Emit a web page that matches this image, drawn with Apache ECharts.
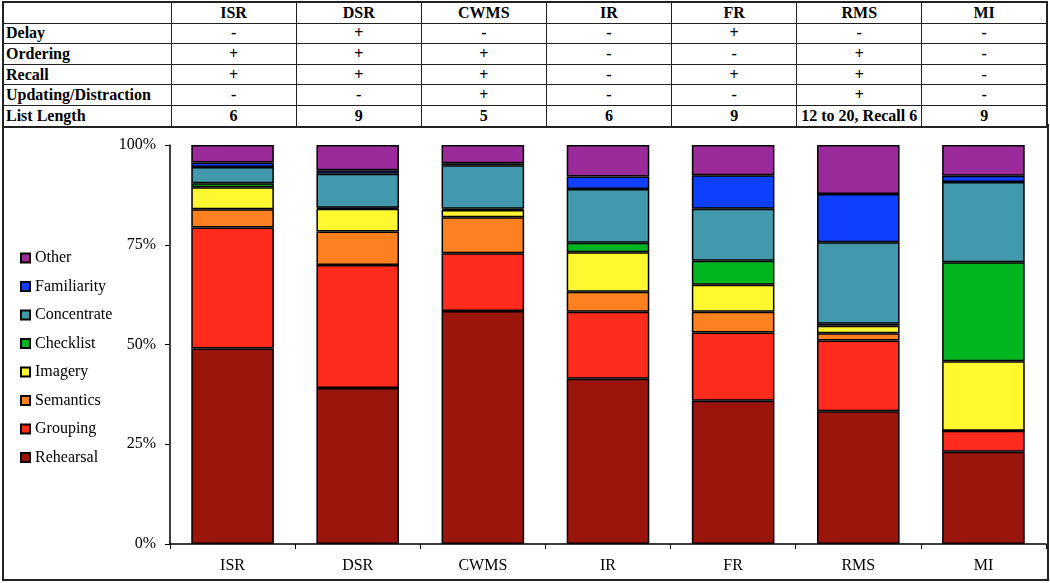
<!DOCTYPE html>
<html>
<head>
<meta charset="utf-8">
<script src="https://cdn.jsdelivr.net/npm/echarts@6/dist/echarts.min.js"></script>
<style>
  html, body { margin:0; padding:0; background:#fff; }
  #wrap { position:relative; width:1050px; height:583px; overflow:hidden; }
  #chart { position:absolute; left:0; top:0; width:1050px; height:583px; }
  #box { position:absolute; left:2px; top:124px; width:1043px; height:453px; border:2px solid #222; pointer-events:none; }
  table { position:absolute; left:2px; top:1px; width:1046px; border-collapse:collapse; table-layout:fixed;
          font-family:"Liberation Serif","Times New Roman",Times,serif; font-weight:bold; font-size:16px; color:#000; border:2px solid #222; z-index:2; background:#fff; }
  td { border:1px solid #222; height:19.6px; padding:0 2px; line-height:18px; text-align:center; white-space:nowrap; overflow:hidden; }
  td.h { text-align:left; }
</style>
</head>
<body>
<div id="wrap">
  <div id="chart"></div>
  <div id="box"></div>
  <table id="tbl"></table>
</div>
<script>
// ---- data ----
const categories = ['ISR', 'DSR', 'CWMS', 'IR', 'FR', 'RMS', 'MI'];
const rowLabels = ['Delay', 'Ordering', 'Recall', 'Updating/Distraction', 'List Length'];
const delay     = ['-', '+', '-', '-', '+', '-', '-'];
const ordering  = ['+', '+', '+', '-', '-', '+', '-'];
const recall    = ['+', '+', '+', '-', '+', '+', '-'];
const updating  = ['-', '-', '+', '-', '-', '+', '-'];
const listLength = ['6', '9', '5', '6', '9', '12 to 20, Recall 6', '9'];

const rehearsal   = [49.0, 39.1, 58.4, 41.4, 35.9, 33.3, 23.1];
const grouping    = [30.3, 30.8, 14.5, 16.8, 17.1, 17.7, 5.3];
const semantics   = [4.6, 8.4, 9.0, 5.0, 5.2, 1.8, 0.0];
const imagery     = [5.5, 5.7, 1.8, 9.9, 6.8, 1.9, 17.4];
const checklist   = [1.0, 0.3, 0.3, 2.4, 6.0, 0.5, 24.8];
const concentrate = [4.1, 8.5, 10.9, 13.5, 13.0, 20.4, 20.1];
const familiarity = [1.1, 0.9, 0.5, 3.1, 8.4, 12.1, 1.6];
const other       = [4.4, 6.3, 4.6, 7.9, 7.6, 12.3, 7.7];

const seriesNames = ['Rehearsal', 'Grouping', 'Semantics', 'Imagery', 'Checklist', 'Concentrate', 'Familiarity', 'Other'];
const seriesData = [rehearsal, grouping, semantics, imagery, checklist, concentrate, familiarity, other];
const colors = ['#9a160c', '#ff2b1c', '#ff8020', '#fff830', '#00b520', '#4298ac', '#1040ff', '#9b2a9a'];
const yTicks = [0, 25, 50, 75, 100];

// ---- table ----
const tbl = document.getElementById('tbl');
let html = '<colgroup><col style="width:168px">' + categories.map(() => '<col>').join('') + '</colgroup>';
html += '<tr><td></td>' + categories.map(c => '<td>' + c + '</td>').join('') + '</tr>';
const rows = [delay, ordering, recall, updating, listLength];
rows.forEach((r, i) => {
  html += '<tr><td class="h">' + rowLabels[i] + '</td>' + r.map(v => '<td>' + v + '</td>').join('') + '</tr>';
});
tbl.innerHTML = html;

// ---- chart ----
const chart = echarts.init(document.getElementById('chart'));
const font = 'Liberation Serif, Times New Roman, serif';
chart.setOption({
  animation: false,
  color: colors,
  grid: { left: 170, right: 4, top: 145, bottom: 39, containLabel: false },
  legend: {
    orient: 'vertical', left: 15, top: 244,
    data: seriesNames.slice().reverse(),
    icon: 'rect', itemWidth: 9, itemHeight: 9, itemGap: 10.5,
    textStyle: { fontFamily: font, fontSize: 16, color: '#000', lineHeight: 18 }
  },
  xAxis: {
    type: 'category', data: categories,
    axisLine: { lineStyle: { color: '#000', width: 1.5 } },
    axisTick: { show: true, length: 5, lineStyle: { color: '#000' } },
    axisLabel: { fontFamily: font, fontSize: 16, color: '#000', margin: 14 }
  },
  yAxis: {
    type: 'value', min: 0, max: 100, interval: 25,
    axisLine: { show: true, lineStyle: { color: '#000', width: 1.5 } },
    axisTick: { show: true, length: 5, lineStyle: { color: '#000' } },
    splitLine: { show: false },
    axisLabel: { fontFamily: font, fontSize: 16, color: '#000', margin: 14,
      formatter: v => (yTicks.indexOf(v) >= 0 ? v + '%' : '') }
  },
  series: seriesNames.map((n, i) => ({
    name: n, type: 'bar', stack: 'all', barWidth: '66%',
    data: seriesData[i],
    itemStyle: { color: colors[i], borderColor: '#000', borderWidth: 1.5 }
  }))
});
</script>
</body>
</html>
